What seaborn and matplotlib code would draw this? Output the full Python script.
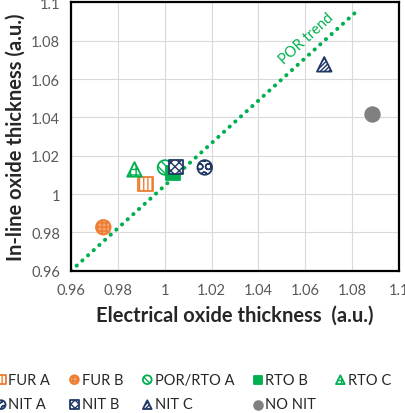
import matplotlib
matplotlib.use("Agg")
import matplotlib.pyplot as plt
import seaborn as sns
import pandas as pd

# ---- data ----
series = ["FUR A", "FUR B", "POR/RTO A", "RTO B", "RTO C",
          "NIT A", "NIT B", "NIT C", "NO NIT"]
x_elec = [0.9919, 0.9738, 1.0001, 1.0034, 0.9871, 1.0171, 1.0049, 1.0681, 1.0885]
y_inline = [1.0053, 0.9827, 1.0139, 1.0111, 1.0129, 1.0139, 1.0142, 1.0677, 1.0416]
trend_x = [0.96, 1.0827]
trend_y = [0.96, 1.0962]
trend_label = "POR trend"
ticks = [0.96, 0.98, 1.0, 1.02, 1.04, 1.06, 1.08, 1.1]
tick_labels = ["0.96", "0.98", "1", "1.02", "1.04", "1.06", "1.08", "1.1"]
xlabel = "Electrical oxide thickness  (a.u.)"
ylabel = "In-line oxide thickness (a.u.)"

# ---- styles ----
ORANGE = "#ED7D31"
GREEN = "#00B050"
NAVY = "#203864"
GRAY = "#808080"
styles = {
    "FUR A":     dict(marker="s", fc="white", ec=ORANGE, hatch="||||"),
    "FUR B":     dict(marker="o", fc="#F4A470", ec=ORANGE, hatch="++++"),
    "POR/RTO A": dict(marker="o", fc="white", ec=GREEN, hatch="\\\\\\\\"),
    "RTO B":     dict(marker="s", fc=GREEN, ec=GREEN, hatch=None),
    "RTO C":     dict(marker="^", fc="white", ec=GREEN, hatch="+++"),
    "NIT A":     dict(marker="o", fc="white", ec=NAVY, hatch="OO"),
    "NIT B":     dict(marker="s", fc="white", ec=NAVY, hatch="xxxx"),
    "NIT C":     dict(marker="^", fc="white", ec=NAVY, hatch="////////"),
    "NO NIT":    dict(marker="o", fc=GRAY, ec=GRAY, hatch=None),
}

sns.set_style("white")
plt.rcParams["font.family"] = ["Lato", "DejaVu Sans"]
plt.rcParams["hatch.linewidth"] = 1.0

fig = plt.figure(figsize=(4.06, 4.14), dpi=100)
ax = fig.add_axes([71 / 406, 1 - 271.8 / 414, 328 / 406, 268.4 / 414])

df = pd.DataFrame({"series": series, "x": x_elec, "y": y_inline})

# trend line (round dotted)
ax.plot(trend_x, trend_y, color=GREEN, lw=2.9, linestyle=(0, (0.05, 1.85)),
        dash_capstyle="round", solid_capstyle="round", zorder=2)

for name in series:
    st = styles[name]
    sub = df[df["series"] == name]
    with plt.rc_context({"hatch.color": st["ec"]}):
        sns.scatterplot(data=sub, x="x", y="y", ax=ax, marker=st["marker"],
                        s=110, facecolor=st["fc"], edgecolor=st["ec"],
                        linewidth=1.3, hatch=st["hatch"], label=name,
                        zorder=3, legend=False)

ax.text(1.0605, 1.0812, trend_label, color=GREEN, fontsize=10.5,
        rotation=42.5, ha="center", va="center", rotation_mode="anchor")

ax.set_xlim(0.96, 1.1)
ax.set_ylim(0.96, 1.1)
ax.set_xticks(ticks)
ax.set_xticklabels(tick_labels)
ax.set_yticks(ticks)
ax.set_yticklabels(tick_labels)
ax.tick_params(axis="both", length=0, labelsize=10.5, labelcolor="#595959")
ax.tick_params(axis="x", pad=9)
ax.tick_params(axis="y", pad=8)
ax.grid(True, color="#D9D9D9", linewidth=0.8)
ax.set_axisbelow(True)
for sp in ax.spines.values():
    sp.set_visible(True)
    sp.set_color("black")
    sp.set_linewidth(1.6)

ax.set_xlabel(xlabel, fontsize=14.5, fontweight="bold", labelpad=5)
ax.set_ylabel(ylabel, fontsize=14.5, fontweight="bold", labelpad=4)

handles, labels = ax.get_legend_handles_labels()
hmap = dict(zip(labels, handles))
order = ["FUR A", "NIT A", "FUR B", "NIT B", "POR/RTO A", "NIT C",
         "RTO B", "NO NIT", "RTO C"]
fig.legend([hmap[k] for k in order], order, ncol=5, frameon=False,
           loc="lower left", bbox_to_anchor=(-0.042, -0.028),
           fontsize=10.5, markerscale=0.6, handletextpad=0.15,
           columnspacing=1.3, handlelength=0.7, labelspacing=0.75)

fig.savefig("out.png", dpi=100)
